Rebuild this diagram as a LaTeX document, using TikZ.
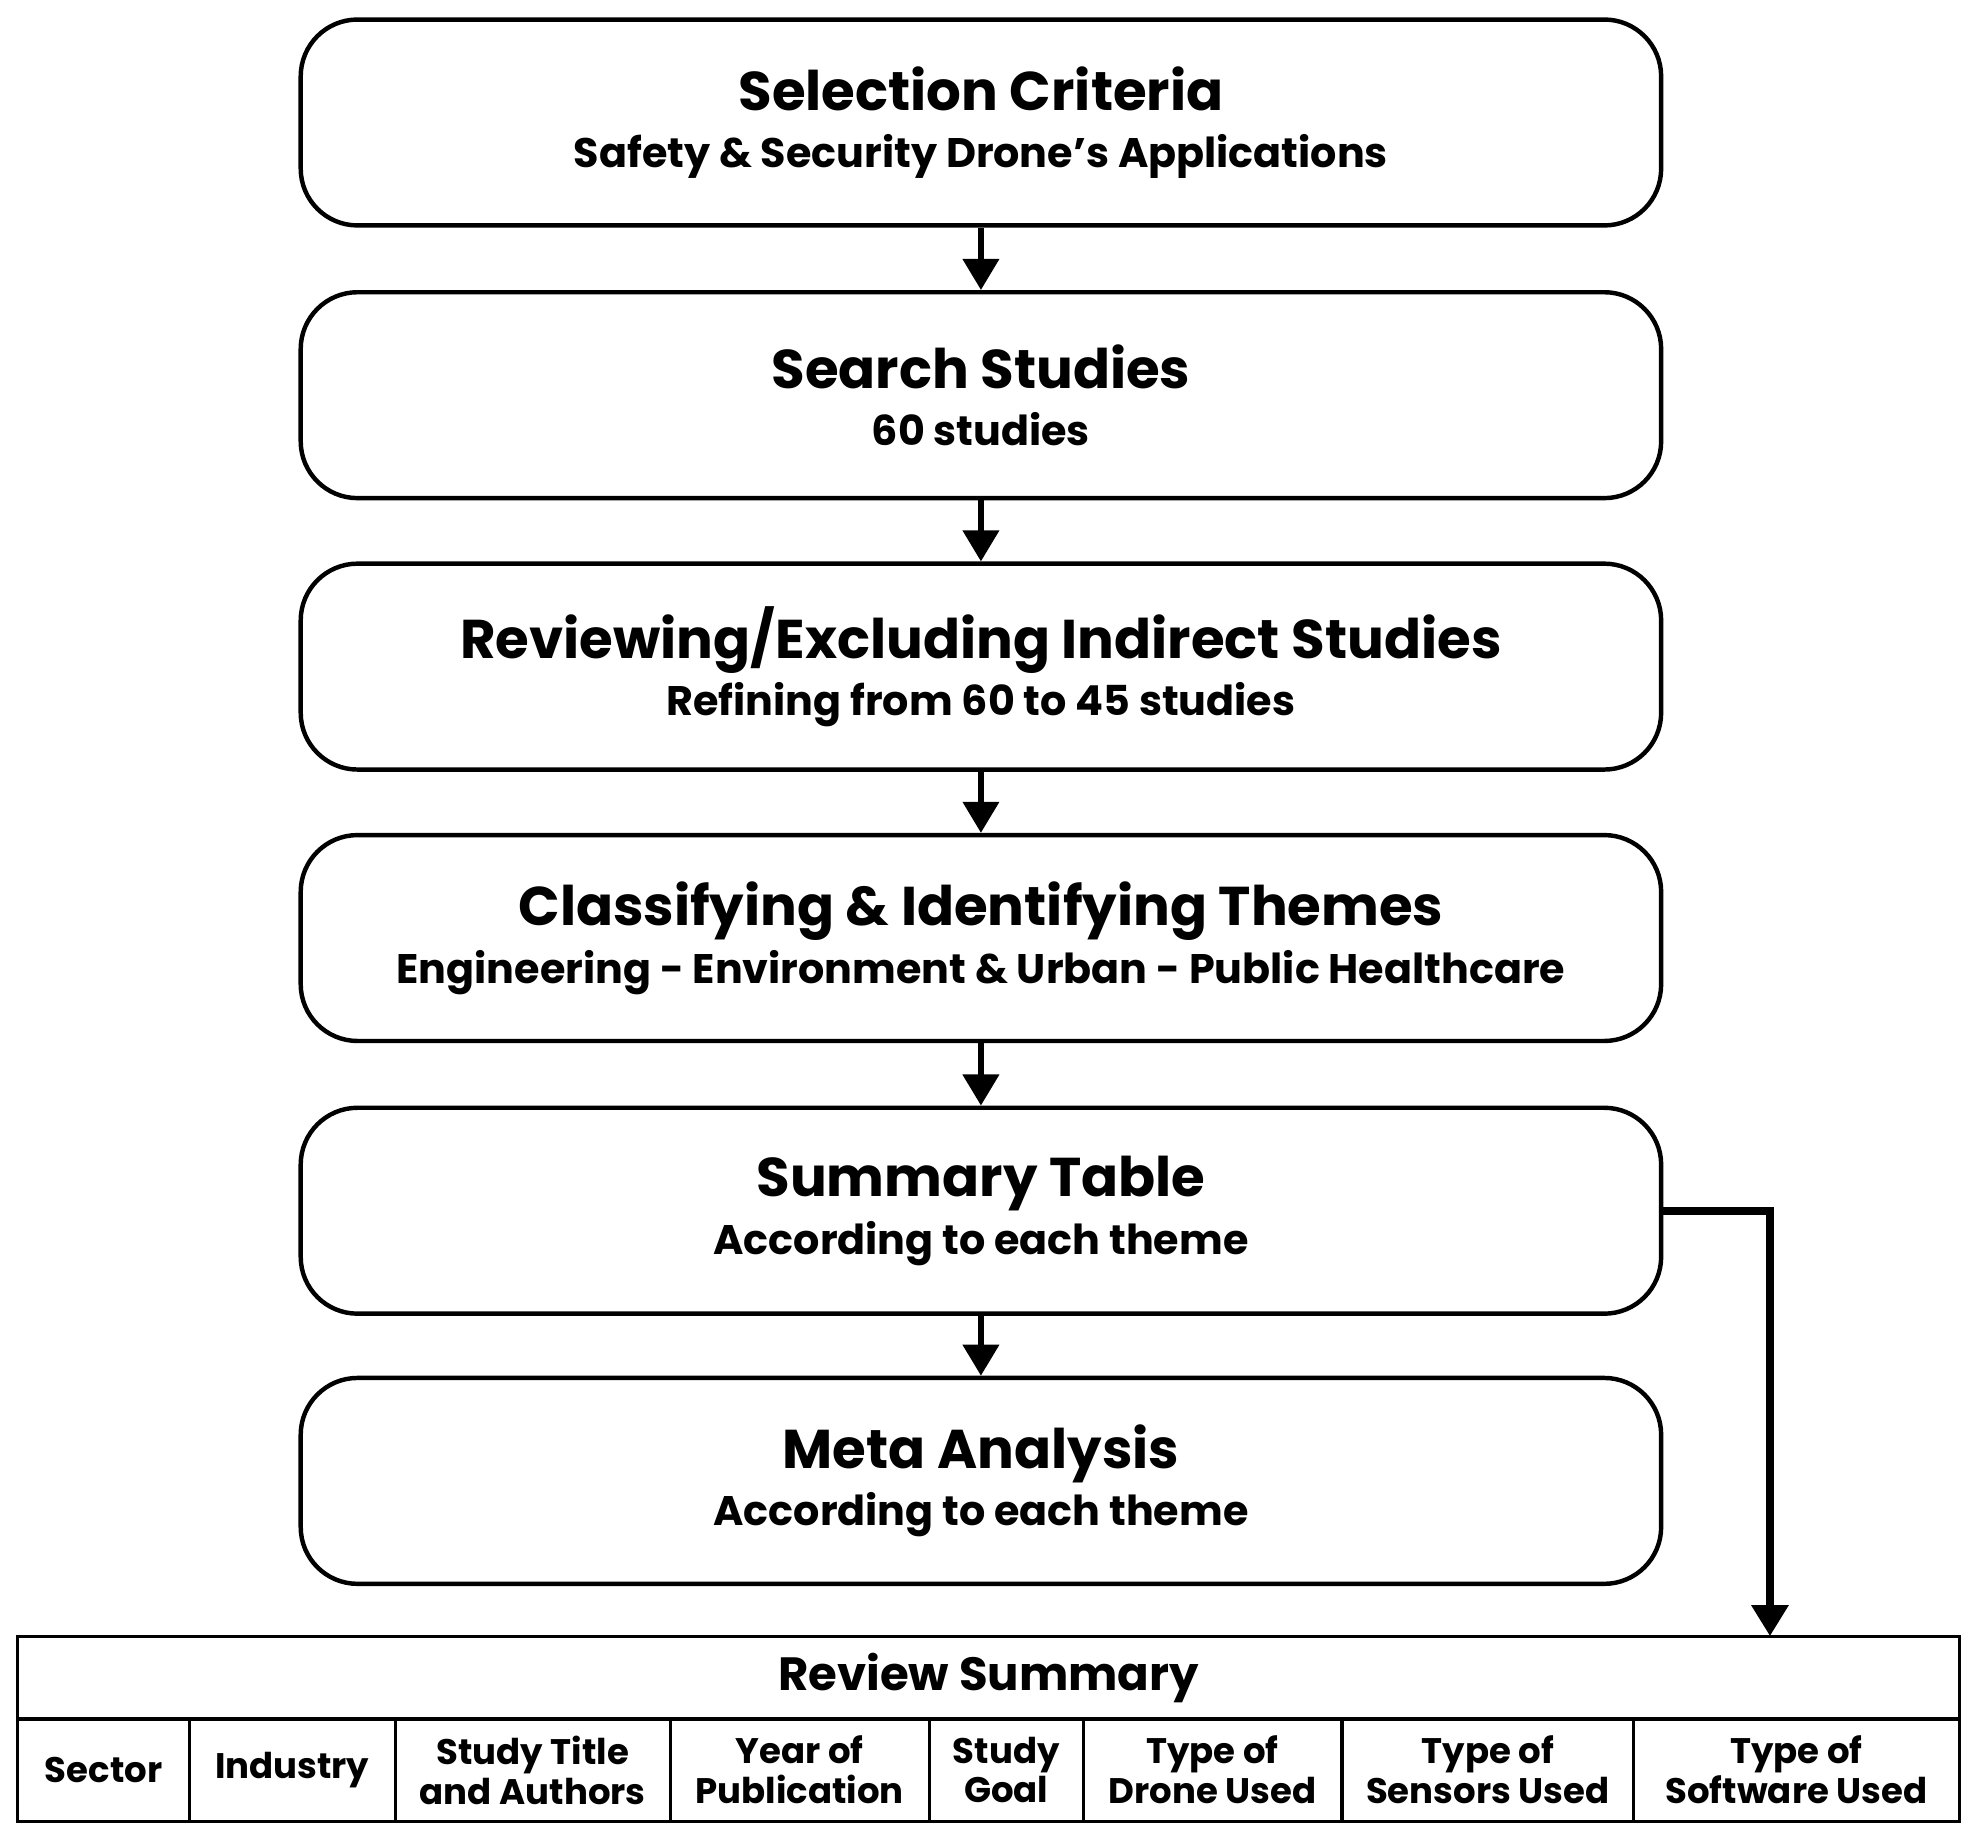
\documentclass[tikz,border=0pt]{standalone}
\usepackage{fontspec}
\setmainfont{Poppins}
\usetikzlibrary{arrows.meta,positioning}
\begin{document}
\begin{tikzpicture}[
		x=0.01cm, y=-0.01cm,
		% boxes of the flow
		stepBox/.style={draw, line width=1pt, rounded corners=0.45cm, minimum width=10.77cm, minimum height=1.63cm, align=center, inner sep=0pt},
		flowArrow/.style={line width=1.3pt, -{Triangle[width=8pt,length=7pt]}},
		cell/.style={draw, line width=0.7pt, minimum height=0.81cm, align=center, inner sep=0pt, font=\fontsize{8}{9}\selectfont\bfseries}
	]
	\useasboundingbox (0,0) rectangle (1566,1456);

	% --- boxes ---
	\newcommand{\stepText}[2]{{\fontsize{12.3}{14}\selectfont\bfseries #1}\\[1pt]{\fontsize{9.3}{11}\selectfont\bfseries #2}}
	\node[stepBox] (crit) at (777, 97)   {\stepText{Selection Criteria}{Safety \& Security Drone's Applications}};
	\node[stepBox] (srch) at (777, 313)  {\stepText{Search Studies}{60 studies}};
	\node[stepBox] (revw) at (777, 528)  {\stepText{Reviewing/Excluding Indirect Studies}{Refining from 60 to 45 studies}};
	\node[stepBox] (clas) at (777, 743)  {\stepText{Classifying \& Identifying Themes}{Engineering - Environment \& Urban - Public Healthcare}};
	\node[stepBox] (summ) at (777, 959)  {\stepText{Summary Table}{According to each theme}};
	\node[stepBox] (meta) at (777, 1173) {\stepText{Meta Analysis}{According to each theme}};

	% --- table ---
	\node[draw, line width=0.7pt, minimum width=15.38cm, minimum height=0.66cm, inner sep=0pt, font=\fontsize{10.5}{12}\selectfont\bfseries] (head) at (783, 1329) {Review Summary};
	\node[cell, minimum width=1.36cm] (c1) at (82, 1402)   {Sector};
	\node[cell, minimum width=1.63cm] (c2) at (231.5, 1402) {Industry};
	\node[cell, minimum width=2.18cm] (c3) at (422, 1402)  {Study Title\\and Authors};
	\node[cell, minimum width=2.05cm] (c4) at (633.5, 1402) {Year of\\Publication};
	\node[cell, minimum width=1.22cm] (c5) at (797, 1402)  {Study\\Goal};
	\node[cell, minimum width=2.05cm] (c6) at (960.5, 1402) {Type of\\Drone Used};
	\node[cell, minimum width=2.31cm] (c7) at (1178.5, 1402) {Type of\\Sensors Used};
	\node[cell, minimum width=2.58cm] (c8) at (1423, 1402) {Type of\\Software Used};

	% --- arrows ---
	\draw[flowArrow] (crit) -- (srch);
	\draw[flowArrow] (srch) -- (revw);
	\draw[flowArrow] (revw) -- (clas);
	\draw[flowArrow] (clas) -- (summ);
	\draw[flowArrow] (summ) -- (meta);
	\coordinate (tab) at (1402, 1296);
	\draw[flowArrow, line width=1.9pt] (summ.east) -- (1402, 959) -- (tab);
\end{tikzpicture}
\end{document}
